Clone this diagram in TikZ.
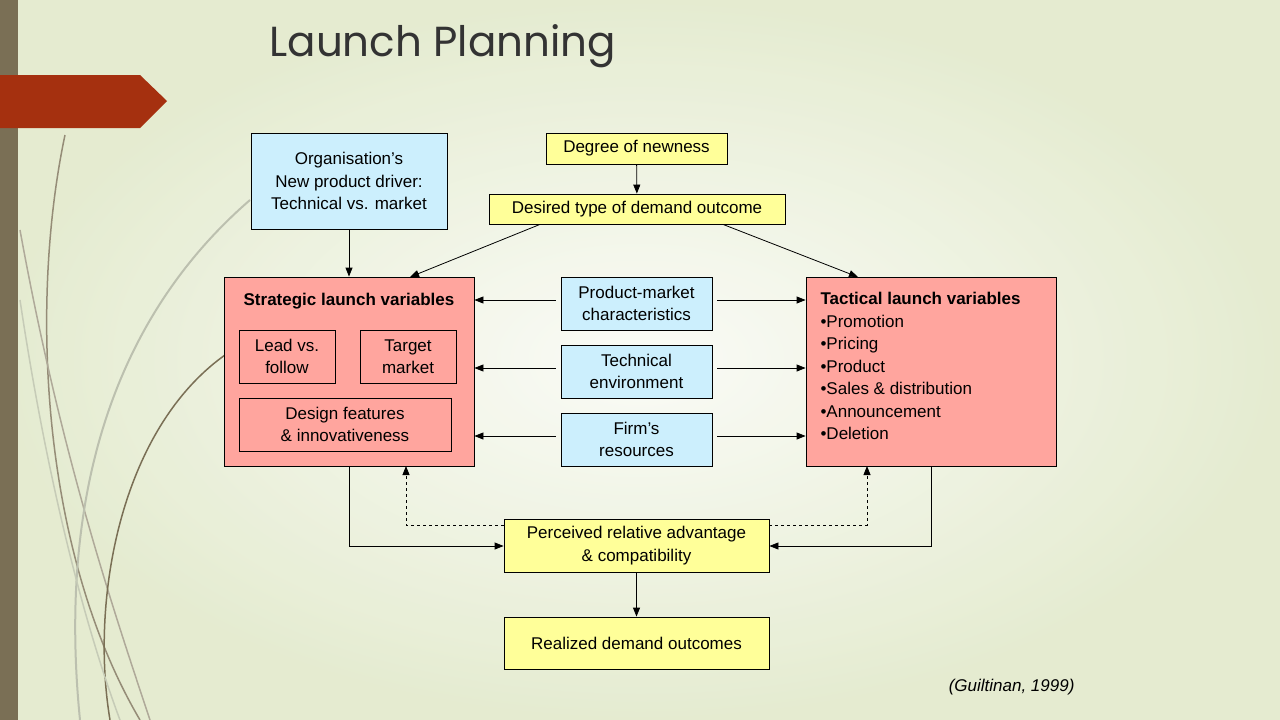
\documentclass[tikz,border=0pt]{standalone}
\usepackage{fontspec}
\setmainfont{Liberation Sans}
\newfontfamily\titlefont{Poppins}
\usetikzlibrary{arrows.meta}
\definecolor{bgA}{HTML}{FFFFFF}
\definecolor{bgB}{HTML}{E4EBCF}
\definecolor{barc}{HTML}{7A6F55}
\definecolor{redc}{HTML}{A5300F}
\definecolor{blu}{HTML}{CCEFFD}
\definecolor{yel}{HTML}{FFFF99}
\definecolor{sal}{HTML}{FFA59E}
\begin{document}
\begin{tikzpicture}[x=1pt,y=-1pt,
  bx/.style={draw=black,line width=0.8pt,align=center,inner sep=0pt,font=\fontsize{17}{22.5}\selectfont},
  ar/.style={-{Triangle[length=9pt,width=7pt]},line width=0.8pt},
  da/.style={ar,dashed}]
\useasboundingbox (0,0) rectangle (1280,720);
\fill[bgB!80] (0,0) rectangle (1280,720);
\shade[inner color=white,outer color=bgB,opacity=0.8] (0,0) rectangle (1280,720);
\fill[barc] (0,0) rectangle (18,720);
% decorative curves
\begin{scope}[line width=1.5pt]
\draw[barc!80] (65,135) .. controls (30,300) and (40,550) .. (140,720);
\draw[barc!60] (20,230) .. controls (60,450) and (110,600) .. (150,720);
\draw[barc] (225,355) .. controls (120,430) and (90,600) .. (110,720);
\draw[bgB!60!gray,line width=2pt] (250,200) .. controls (100,330) and (60,520) .. (80,720);
\draw[bgB!70!gray] (20,300) .. controls (50,500) and (90,640) .. (120,720);
\end{scope}
\fill[redc] (0,75) -- (140,75) -- (167,101) -- (140,128) -- (0,128) -- cycle;
\node[anchor=west,font=\titlefont\fontsize{42}{46}\selectfont,text=black!80] (title) at (266,46) {Launch Planning};
% boxes
\node[bx,fill=blu,minimum width=196pt,minimum height=96pt] (org) at (349,181) {Organisation’s\\New product driver:\\Technical vs. market};
\node[bx,fill=yel,minimum width=181pt,minimum height=31pt] (deg) at (636.5,148.5) {Degree of newness};
\node[bx,fill=yel,minimum width=296pt,minimum height=30pt] (des) at (637,209) {Desired type of demand outcome};
\node[bx,fill=sal,minimum width=250pt,minimum height=189pt] (str) at (349,371.5) {};
\node[font=\bfseries\fontsize{17}{20}\selectfont] (strt) at (349,301) {Strategic launch variables};
\node[bx,fill=sal,minimum width=96pt,minimum height=53pt] (lead) at (287,356.5) {Lead vs.\\follow};
\node[bx,fill=sal,minimum width=96pt,minimum height=53pt] (tgt) at (408,356.5) {Target\\market};
\node[bx,fill=sal,minimum width=212pt,minimum height=53pt] (dsg) at (345,424.5) {Design features\\\& innovativeness};
\node[bx,fill=blu,minimum width=151pt,minimum height=53pt] (pm) at (636.5,303.5) {Product-market\\characteristics};
\node[bx,fill=blu,minimum width=151pt,minimum height=53pt] (te) at (636.5,371.5) {Technical\\environment};
\node[bx,fill=blu,minimum width=151pt,minimum height=53pt] (fr) at (636.5,439.5) {Firm’s\\resources};
\node[bx,fill=sal,minimum width=250pt,minimum height=189pt] (tac) at (931,371.5) {};
\node[anchor=north west,align=left,font=\fontsize{17}{22.5}\selectfont] (tact) at (817,289) {\textbf{Tactical launch variables}\\•Promotion\\•Pricing\\•Product\\•Sales \& distribution\\•Announcement\\•Deletion};
\node[bx,fill=yel,minimum width=265pt,minimum height=53pt] (per) at (636.5,545.5) {Perceived relative advantage\\\& compatibility};
\node[bx,fill=yel,minimum width=265pt,minimum height=52pt] (rea) at (636.5,643) {Realized demand outcomes};
\node[anchor=east,font=\itshape\fontsize{17}{20}\selectfont] (cit) at (1078,687) {(Guiltinan, 1999)};
% connectors
\draw[ar] (deg) -- (des);
\draw[ar] (des.south) ++(-97,0) -- (410,277);
\draw[ar] (des.south) ++(86,0) -- (858,277);
\draw[ar] (org) -- (str);
\foreach \b/\y in {pm/300,te/368,fr/436}{
  \draw[ar] (\b.west |- 0,\y) ++(-5,0) -- (str.east |- 0,\y);
  \draw[ar] (\b.east |- 0,\y) ++(5,0) -- (tac.west |- 0,\y);
}
\draw[ar] (str.south) -- (349,546) -- (per.west |- 0,546);
\draw[ar] (931,466) -- (931,546) -- (per.east |- 0,546);
\draw[da] (per.west |- 0,525) -- (406,525) -- (406,466);
\draw[da] (per.east |- 0,525) -- (867,525) -- (867,466);
\draw[ar] (per) -- (rea);
\end{tikzpicture}
\end{document}
